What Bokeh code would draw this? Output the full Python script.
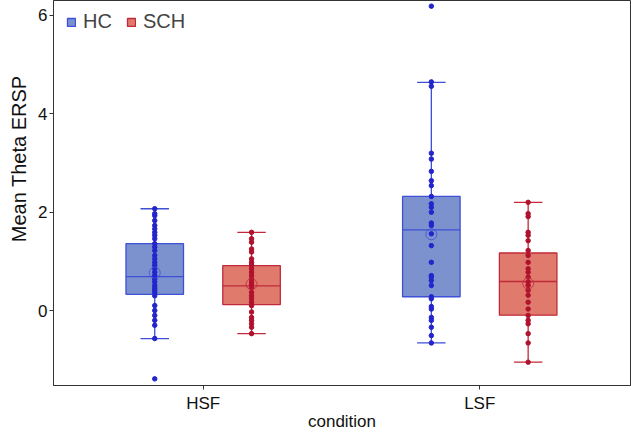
from bokeh.plotting import figure
from bokeh.models import ColumnDataSource, Legend, LegendItem, FixedTicker, Title
from bokeh.embed import file_html
from bokeh.resources import INLINE

conditions = ["HSF", "LSF"]
groups = ["HC", "SCH"]

# individual subject values
hc_hsf = [2.07, 1.97, 1.93, 1.83, 1.73, 1.66, 1.59, 1.53, 1.46, 1.36, 1.29, 1.22,
          1.12, 1.05, 0.98, 0.92, 0.85, 0.78, 0.71, 0.64, 0.58, 0.51, 0.46, 0.42,
          0.37, 0.30, 0.10, 0.00, -0.10, -0.20, -0.30, -0.57, -1.39]
sch_hsf = [1.59, 1.46, 1.39, 1.25, 1.19, 1.05, 0.98, 0.92, 0.85, 0.78, 0.71, 0.64,
           0.58, 0.53, 0.47, 0.37, 0.30, 0.24, 0.17, 0.10, -0.03, -0.14, -0.20,
           -0.27, -0.34, -0.47]
hc_lsf = [6.19, 4.65, 4.56, 3.20, 3.08, 2.83, 2.64, 2.54, 2.32, 2.17, 2.10, 2.00,
          1.78, 1.73, 1.56, 1.32, 0.98, 0.71, 0.68, 0.61, 0.51, 0.28, 0.24, 0.08,
          0.03, -0.14, -0.20, -0.34, -0.51, -0.66]
sch_lsf = [2.20, 1.97, 1.91, 1.59, 1.53, 1.42, 1.22, 1.12, 0.98, 0.85, 0.78, 0.68,
           0.58, 0.51, 0.41, 0.31, 0.17, 0.03, -0.10, -0.20, -0.27, -0.47, -0.66,
           -1.05]

# box statistics per group, order: HSF, LSF
hc_q1 = [0.33, 0.28]
hc_med = [0.69, 1.64]
hc_q3 = [1.36, 2.32]
hc_wlo = [-0.57, -0.66]
hc_whi = [2.07, 4.64]
hc_mean = [0.77, 1.55]

sch_q1 = [0.12, -0.095]
sch_med = [0.50, 0.59]
sch_q3 = [0.915, 1.17]
sch_wlo = [-0.47, -1.05]
sch_whi = [1.59, 2.20]
sch_mean = [0.535, 0.55]

y_ticks = [0, 2, 4, 6]

offset = 0.175
box_w = 0.208
cap_w = 0.103

styles = {
    "HC": dict(fill="#7b92cf", line="#3f4fd6", dot="#2424cc"),
    "SCH": dict(fill="#e07a6c", line="#c02a3a", dot="#b0122e"),
}

p = figure(width=631, height=433, x_range=(0.459, 2.545), y_range=(-1.525, 6.305),
           output_backend="svg", toolbar_location=None,
           min_border_left=53, min_border_right=1, min_border_top=0, min_border_bottom=30)

p.xgrid.visible = False
p.ygrid.visible = False
p.outline_line_color = "#333333"
p.outline_line_width = 1
p.background_fill_color = "white"

data = {
    "HC": (hc_q1, hc_med, hc_q3, hc_wlo, hc_whi, hc_mean, [hc_hsf, hc_lsf], -offset),
    "SCH": (sch_q1, sch_med, sch_q3, sch_wlo, sch_whi, sch_mean, [sch_hsf, sch_lsf], offset),
}

legend_items = []
for g in groups:
    q1, med, q3, wlo, whi, mean, pts, off = data[g]
    st = styles[g]
    xs = [i + 1 + off for i in range(len(conditions))]
    src = ColumnDataSource(dict(x=xs, q1=q1, med=med, q3=q3, wlo=wlo, whi=whi, mean=mean,
                                xl=[x - box_w / 2 for x in xs], xr=[x + box_w / 2 for x in xs],
                                cl=[x - cap_w / 2 for x in xs], cr=[x + cap_w / 2 for x in xs]))
    box = p.vbar(x="x", width=box_w, top="q3", bottom="q1", source=src,
                 fill_color=st["fill"], line_color=st["line"], line_width=1.3)
    p.segment(x0="x", y0="q3", x1="x", y1="whi", source=src, line_color=st["line"], line_width=1.3)
    p.segment(x0="x", y0="q1", x1="x", y1="wlo", source=src, line_color=st["line"], line_width=1.3)
    p.segment(x0="cl", y0="whi", x1="cr", y1="whi", source=src, line_color=st["line"], line_width=1.3)
    p.segment(x0="cl", y0="wlo", x1="cr", y1="wlo", source=src, line_color=st["line"], line_width=1.3)
    p.segment(x0="xl", y0="med", x1="xr", y1="med", source=src, line_color=st["line"], line_width=1.3)
    for i, vals in enumerate(pts):
        p.scatter(x=[xs[i]] * len(vals), y=vals, size=4.5, fill_color=st["dot"],
                  line_color=st["dot"])
    p.scatter(x="x", y="mean", source=src, size=11, fill_color=None,
              line_color=st["line"], line_width=0.8)
    legend_items.append(LegendItem(label=g, renderers=[box]))

legend = Legend(items=legend_items, location=(13, 352), orientation="horizontal",
                background_fill_alpha=0, border_line_color=None,
                label_text_font="Liberation Sans", label_text_font_size="20px",
                glyph_width=10, glyph_height=10, spacing=14, label_standoff=7,
                margin=0, padding=6)
p.add_layout(legend)

for ax in (p.xaxis[0], p.yaxis[0]):
    ax.axis_line_color = "#333333"
    ax.major_tick_line_color = "#333333"
    ax.major_tick_out = 4
    ax.major_tick_in = 0
    ax.minor_tick_line_color = None
    ax.major_label_text_font = "Liberation Sans"
    ax.major_label_text_font_size = "17px"
    ax.major_label_text_color = "#111111"
    ax.axis_label_text_font = "Liberation Sans"
    ax.axis_label_text_font_size = "17px"
    ax.axis_label_text_font_style = "normal"
    ax.axis_label_text_color = "#111111"
    ax.major_label_standoff = 2
    ax.axis_label_standoff = 2

p.xaxis.ticker = FixedTicker(ticks=[i + 1 for i in range(len(conditions))])
p.xaxis.major_label_overrides = {i + 1: c for i, c in enumerate(conditions)}
p.xaxis.axis_label = "condition"
p.xaxis.major_label_standoff = 4
p.xaxis.axis_label_standoff = -4
p.yaxis.ticker = FixedTicker(ticks=y_ticks)

ytitle = Title(text="Mean Theta ERSP", align="right", offset=75,
               text_font="Liberation Sans", text_font_size="20px",
               text_font_style="normal", text_color="#111111", standoff=11,
               text_line_height=0.9)
p.add_layout(ytitle, "left")

open("out.html", "w").write(file_html(p, INLINE))
